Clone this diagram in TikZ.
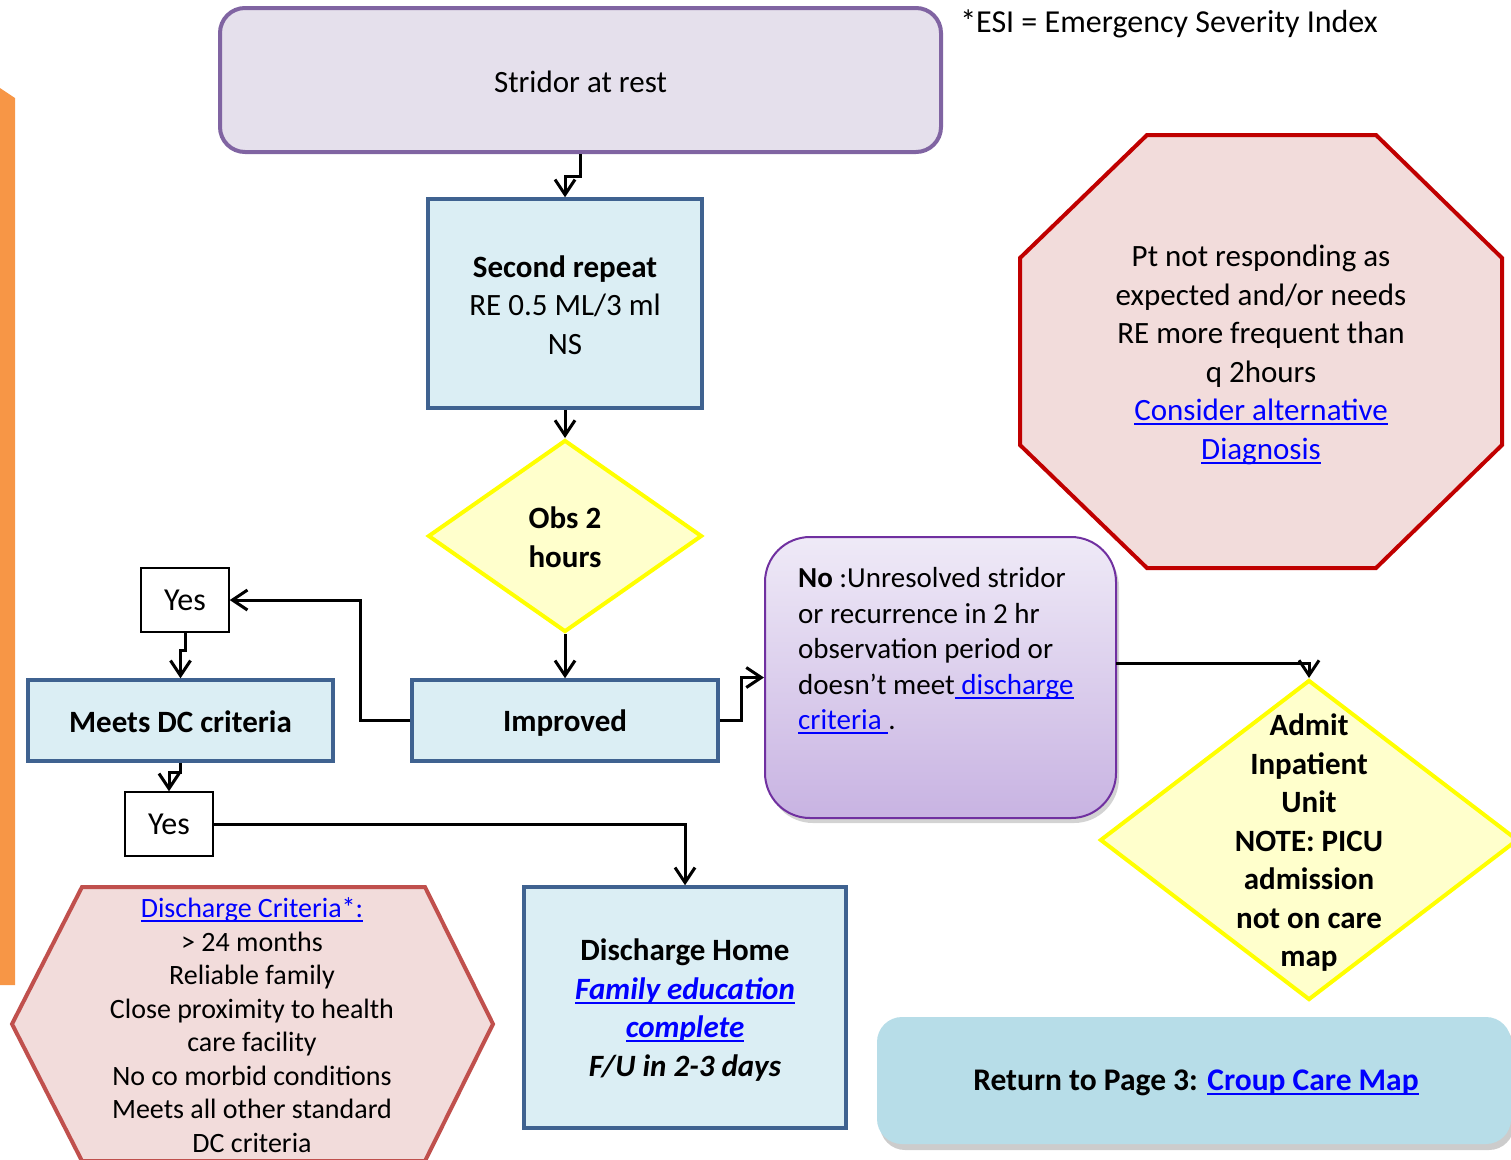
\documentclass[tikz,border=0pt]{standalone}
\usepackage{fontspec}
\setmainfont{Carlito}
\usetikzlibrary{arrows.meta,shapes.geometric,shadows,calc}
\definecolor{linkblue}{HTML}{0000FF}
\definecolor{boxblue}{HTML}{3F6290}
\definecolor{boxfill}{HTML}{DBEEF4}
\definecolor{purpfill}{HTML}{E5E0EC}
\definecolor{purpline}{HTML}{8064A2}
\definecolor{yelfill}{HTML}{FFFFCC}
\definecolor{yelline}{HTML}{FFFF00}
\definecolor{pinkfill}{HTML}{F2DCDB}
\definecolor{octline}{HTML}{C00000}
\definecolor{hexline}{HTML}{C0504D}
\definecolor{notop}{HTML}{EFEAF7}
\definecolor{nobot}{HTML}{C8B3E2}
\definecolor{noline}{HTML}{7030A0}
\definecolor{retfill}{HTML}{B7DDE8}
\definecolor{orangebar}{HTML}{F79646}
\newcommand\fA{\fontsize{31}{38.5}\selectfont}
\newcommand\fB{\fontsize{28}{33.5}\selectfont}
\newcommand\fC{\fontsize{29}{35.5}\selectfont}
\newsavebox\lnkbox
\newcommand\lnk[1]{\textcolor{linkblue}{\sbox\lnkbox{#1}\rlap{\rule[-4.5pt]{\wd\lnkbox}{2pt}}\usebox\lnkbox}}
\tikzset{
  conn/.style={draw=black, line width=3pt, -{Straight Barb[length=15pt,width=20pt]}},
  bluebox/.style={rectangle, draw=boxblue, fill=boxfill, line width=3.5pt, inner sep=0pt},
  yesbox/.style={rectangle, draw=black, fill=white, line width=1.5pt, minimum width=88, minimum height=64, inner sep=0pt, font=\fontsize{32}{38}\selectfont},
  ydiam/.style={diamond, draw=yelline, fill=yelfill, line width=4pt, inner sep=0pt},
  txt/.style={align=center, inner sep=0pt, font=\fA},
}
\begin{document}
\begin{tikzpicture}[x=1pt,y=-1pt]
\useasboundingbox (0,0) rectangle (1511,1159);
% orange side bar
\fill[orangebar] (0,88) -- (15,98) -- (15,985) -- (0,985) -- cycle;
% top
\node[rectangle, rounded corners=25pt, draw=purpline, fill=purpfill, line width=4pt, minimum width=721, minimum height=144] (stridor) at (580.5,80) {};
\node[txt] (stridortxt) at (580.5,82) {Stridor at rest};
\node[txt, font=\fontsize{32}{38.5}\selectfont] (esi) at (1169,24) {*ESI = Emergency Severity Index};
% second repeat
\node[bluebox, minimum width=274, minimum height=209] (second) at (565,303.5) {};
\node[txt] (secondtxt) at (565,305) {\textbf{Second repeat}\\RE 0.5 ML/3 ml\\NS};
% obs diamond
\node[ydiam, minimum width=274, minimum height=192] (obs) at (565,536) {};
\node[txt, font=\bfseries\fA] (obstxt) at (565,537) {Obs 2\\hours};
% improved
\node[bluebox, minimum width=306, minimum height=81] (improved) at (565,720.5) {};
\node[txt, font=\bfseries\fA] (improvedtxt) at (565,723) {Improved};
% meets
\node[bluebox, minimum width=305, minimum height=81] (meets) at (180.5,720.5) {};
\node[txt, font=\bfseries\fA] (meetstxt) at (180.5,722) {Meets DC criteria};
% yes boxes
\node[yesbox] (yes1) at (185,600) {Yes};
\node[yesbox] (yes2) at (169,824) {Yes};
% octagon
\filldraw[draw=octline, fill=pinkfill, line width=4pt, line join=miter] (1147,135) -- (1376,135) -- (1502,258) -- (1502,445) -- (1376,568) -- (1147,568) -- (1020,445) -- (1020,258) -- cycle;
\node[txt] (octtxt) at (1261,355) {Pt not responding as\\expected and/or needs\\RE more frequent than\\q 2hours\\\lnk{Consider alternative}\\\lnk{Diagnosis}};
% no box
\node[rectangle, rounded corners=45pt, draw=noline, top color=notop, bottom color=nobot, line width=2pt, minimum width=351, minimum height=281, drop shadow={shadow xshift=3pt, shadow yshift=-5pt, opacity=0.35}] (nobox) at (940.5,677.5) {};
\node[align=left, inner sep=0pt, font=\fC, anchor=west] (notxt) at (798,651) {\textbf{No} :Unresolved stridor\\or recurrence in 2 hr\\observation period or\\doesn’t meet\lnk{ discharge}\\\lnk{criteria }.};
% admit diamond
\node[ydiam, minimum width=418, minimum height=320] (admit) at (1309,840) {};
\node[txt, font=\bfseries\fA] (admittxt) at (1309,843) {Admit\\Inpatient\\Unit\\NOTE: PICU\\admission\\not on care\\map};
% hexagon
\filldraw[draw=hexline, fill=pinkfill, line width=4pt, line join=miter] (82,887) -- (425,887) -- (493,1024) -- (425,1161) -- (82,1161) -- (12,1024) -- cycle;
\node[txt, font=\fB] (hextxt) at (252,1025) {\lnk{Discharge Criteria*:}\\> 24 months\\Reliable family\\Close proximity to health\\care facility\\No co morbid conditions\\Meets all other standard\\DC criteria};
% discharge home
\node[bluebox, minimum width=322, minimum height=241] (dh) at (685,1007.5) {};
\node[txt, font=\bfseries\fA] (dhtxt) at (685,1010) {Discharge Home\\\textit{\lnk{Family education}}\\\textit{\lnk{complete}}\\\textit{F/U in 2-3 days}};
% return box
\node[rectangle, rounded corners=25pt, fill=retfill, minimum width=634, minimum height=127, drop shadow={shadow xshift=3pt, shadow yshift=-6pt, opacity=0.4}] (ret) at (1194,1080.5) {};
\node[txt, font=\bfseries\fontsize{31.5}{38.5}\selectfont] (rettxt) at (1196,1083) {Return to Page 3: \lnk{Croup Care Map}};
% connectors
\draw[conn] (stridor.south) -- ++(0,22) -| (second.north);
\draw[conn] (second.south) -- (obs.north);
\draw[conn] (obs.south) -- (improved.north);
\draw[conn] (improved.west) -- ++(-50,0) |- (yes1.east);
\draw[conn] (yes1.south) -- ++(0,18) -| (meets.north);
\draw[conn] (meets.south) -- ++(0,10) -| (yes2.north);
\draw[conn] (yes2.east) -| (dh.north);
\draw[conn] (improved.east) -- ++(22,0) |- (nobox.west);
\coordinate (noout) at (1116,663);
\draw[conn] (noout) -| (admit.north);
\end{tikzpicture}
\end{document}
